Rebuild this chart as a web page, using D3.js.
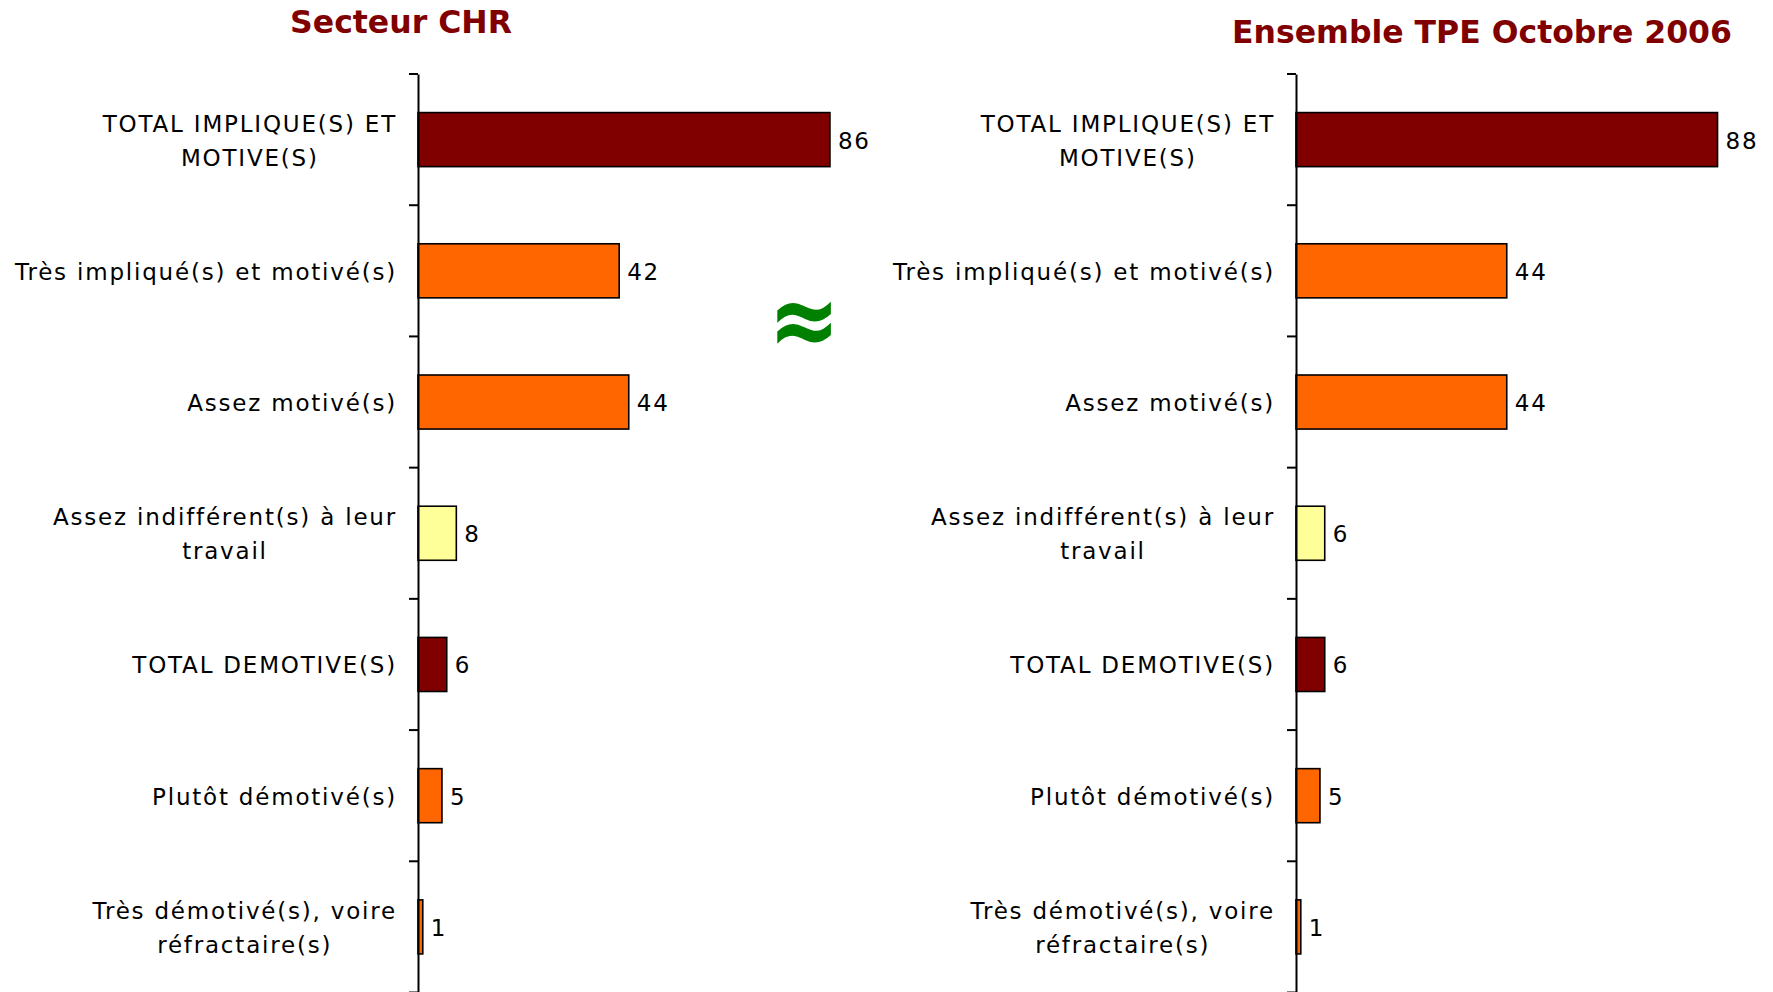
<!DOCTYPE html>
<html>
<head>
<meta charset="utf-8">
<script src="https://cdn.jsdelivr.net/npm/d3@7"></script>
<style>
  html, body { margin: 0; padding: 0; background: #fff; }
  svg { display: block; }
</style>
</head>
<body>
<svg id="chart" width="1773" height="992"></svg>
<script>
// ---- data ----
const categories = [
  "TOTAL IMPLIQUE(S) ET\nMOTIVE(S)",
  "Très impliqué(s) et motivé(s)",
  "Assez motivé(s)",
  "Assez indifférent(s) à leur\ntravail",
  "TOTAL DEMOTIVE(S)",
  "Plutôt démotivé(s)",
  "Très démotivé(s), voire\nréfractaire(s)"
];
const chrValues = [86, 42, 44, 8, 6, 5, 1];
const tpeValues = [88, 44, 44, 6, 6, 5, 1];
const panelTitles = ["Secteur CHR", "Ensemble TPE Octobre 2006"];
const barColors = ["#800000", "#FF6600", "#FF6600", "#FFFF99", "#800000", "#FF6600", "#FF6600"];
const approxSymbol = "≈";

// ---- layout ----
const svg = d3.select("#chart");
const fontFamily = "'DejaVu Sans', Verdana, sans-serif";
const labelSize = 23, labelSpacing = 1.8;

const y = d3.scaleBand()
  .domain(categories)
  .range([74, 992.5])
  .paddingInner(0.588)
  .paddingOuter(0.294);

const panels = [
  { values: chrValues, title: panelTitles[0], axisX: 418, titleX: 401, titleY: 33 },
  { values: tpeValues, title: panelTitles[1], axisX: 1296, titleX: 1482, titleY: 43 }
];

panels.forEach(p => {
  const x = d3.scaleLinear().domain([0, 100]).range([p.axisX, p.axisX + 479]);
  const g = svg.append("g");

  // title
  g.append("text")
    .attr("x", p.titleX).attr("y", p.titleY)
    .attr("text-anchor", "middle")
    .attr("font-family", fontFamily)
    .attr("font-weight", "bold")
    .attr("font-size", 31.5)
    .attr("fill", "#800000")
    .text(p.title);

  // bars
  g.selectAll("rect.bar")
    .data(categories)
    .join("rect")
    .attr("class", "bar")
    .attr("x", x(0))
    .attr("y", d => y(d))
    .attr("width", (d, i) => x(p.values[i]) - x(0))
    .attr("height", y.bandwidth())
    .attr("fill", (d, i) => barColors[i])
    .attr("stroke", "#000")
    .attr("stroke-width", 1.6);

  // value labels
  g.selectAll("text.val")
    .data(categories)
    .join("text")
    .attr("class", "val")
    .attr("x", (d, i) => x(p.values[i]) + 8)
    .attr("y", d => y(d) + y.bandwidth() / 2 + 9)
    .attr("font-family", fontFamily)
    .attr("font-size", labelSize)
    .attr("letter-spacing", labelSpacing)
    .attr("fill", "#000")
    .text((d, i) => p.values[i]);

  // axis line (via d3 axis, no ticks) and boundary ticks
  const axis = d3.axisLeft(y).tickSize(0).tickFormat("");
  const ag = g.append("g").attr("transform", `translate(${p.axisX},0)`).call(axis);
  ag.select(".domain").attr("stroke", "#000").attr("stroke-width", 2);

  const step = y.step();
  const bounds = categories.map(d => y(d) - step * y.paddingInner() / 2);
  bounds.push(bounds[bounds.length - 1] + step);
  g.selectAll("line.tick")
    .data(bounds)
    .join("line")
    .attr("class", "tick")
    .attr("x1", p.axisX - 9).attr("x2", p.axisX)
    .attr("y1", d => d).attr("y2", d => d)
    .attr("stroke", "#000").attr("stroke-width", 2);

  // category labels: multi-line blocks, right-aligned block, centered lines
  const rightEdge = p.axisX - 21;
  categories.forEach(cat => {
    const lines = cat.split("\n");
    const cy = y(cat) + y.bandwidth() / 2;
    const lh = 34;
    const texts = lines.map((ln, i) =>
      g.append("text")
        .attr("font-family", fontFamily)
        .attr("font-size", labelSize)
        .attr("letter-spacing", labelSpacing)
        .attr("fill", "#000")
        .attr("y", cy + (i - (lines.length - 1) / 2) * lh + 9)
        .text(ln)
    );
    const widths = texts.map(t => t.node().getComputedTextLength());
    const maxW = d3.max(widths);
    texts.forEach(t => t.attr("text-anchor", "middle").attr("x", rightEdge - maxW / 2));
  });
});

// approximately-equal sign between the panels
svg.append("g")
  .attr("transform", "translate(804,321) scale(0.93,1.12)")
  .append("text")
  .attr("x", 0).attr("y", 30)
  .attr("text-anchor", "middle")
  .attr("font-family", fontFamily)
  .attr("font-weight", "bold")
  .attr("font-size", 92)
  .attr("fill", "#008000")
  .text(approxSymbol);
</script>
</body>
</html>
